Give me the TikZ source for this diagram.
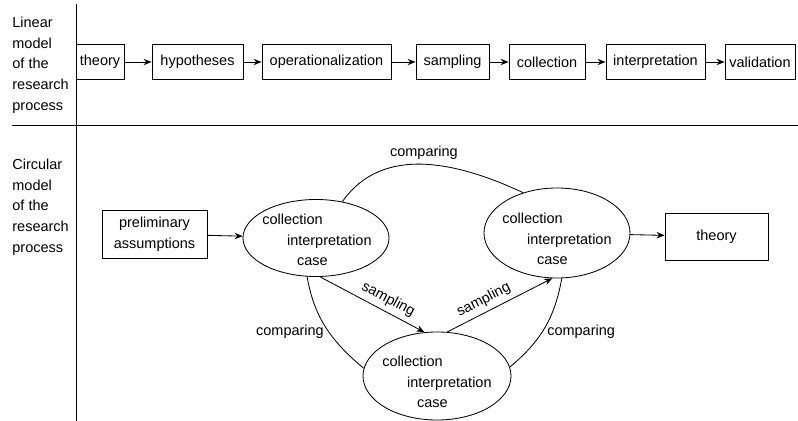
\documentclass[tikz,border=0pt]{standalone}
\usepackage{fontspec}
\setmainfont{Liberation Sans}
\usetikzlibrary{arrows.meta, shapes.geometric, positioning}
\newcommand{\cyclines}{collection\\\hspace*{1.7em}interpretation\\\hspace*{2.4em}case}

\begin{document}
\begin{tikzpicture}[
        x=0.025cm, y=0.025cm,
        font=\fontsize{10.3}{14.6}\selectfont,
        >={Stealth[length=2mm,width=1.6mm]},
        line width=0.6pt,
        stage/.style={
            rectangle,
            draw,
            minimum height=0.875cm,
            inner xsep=2pt,
        },
        roundstage/.style={
            ellipse,
            draw,
            minimum width=3.65cm,
        },
        steptext/.style={
            align=left,
            inner sep=0pt,
            anchor=north west,
        },
        sidelabel/.style={
            align=left,
            inner sep=0pt,
            anchor=north west,
        },
    ]
    \useasboundingbox (0,0) rectangle (798,-421);

    % Frame
    \draw (76,-4) -- (76,-421);
    \draw (12,-125) -- (798,-125);

    % Side labels
    \node[sidelabel] (linlabel) at (12,-17) {Linear\\model\\of the\\research\\process};
    \node[sidelabel] (circlabel) at (12,-159) {Circular\\model\\of the\\research\\process};

    % Linear model, boxes named lin#
    \node[stage, minimum width=1.2cm] (lin1) at (100,-62) {theory};
    \node[stage, minimum width=2.275cm] (lin2) at (197.5,-62) {hypotheses};
    \node[stage, minimum width=3.225cm] (lin3) at (326.5,-62) {operationalization};
    \node[stage, minimum width=1.825cm] (lin4) at (452.5,-62) {sampling};
    \node[stage, minimum width=1.9cm] (lin5) at (547,-62) {collection};
    \node[stage, minimum width=2.475cm] (lin6) at (655.5,-62) {interpretation};
    \node[stage, minimum width=1.75cm] (lin7) at (760,-62) {validation};

    \foreach \a/\b in {1/2,2/3,3/4,4/5,5/6,6/7}
        \draw[->] (lin\a) -- (lin\b);

    % Circular model, cycles named cyc#
    \node[stage, minimum width=2.625cm, minimum height=1.2cm, align=center] (pre) at (154.5,-234) {preliminary\\assumptions};
    \node[stage, minimum width=2.575cm, minimum height=1.175cm] (theo) at (716.5,-236.5) {theory};

    \node[roundstage, minimum height=1.925cm] (cyc1) at (316,-238) {};
    \node[roundstage, minimum height=2.25cm] (cyc2) at (557,-233) {};
    \node[roundstage, minimum width=3.7cm, minimum height=2.2cm] (cyc3) at (437,-376) {};

    \node[steptext] (txt1) at (262,-214) {\cyclines};
    \node[steptext] (txt2) at (502,-213) {\cyclines};
    \node[steptext] (txt3) at (382,-356) {\cyclines};

    % Arrows
    \draw[->] (pre) -- (cyc1);
    \draw[->] (cyc2) -- (theo);
    \draw[->] (cyc1.-84) -- node[pos=0.6, above, sloped] {sampling} (cyc3.106);
    \draw[->] (cyc3.77) -- node[pos=0.4, above, sloped] {sampling} (cyc2.264);

    % Comparing
    \draw (cyc1.54) to[out=55, in=155] node[above] {comparing} (cyc2.130);
    \draw (cyc1.257) to[out=-80, in=140] node[pos=0.55, left] {comparing} (cyc3.174);
    \draw (cyc2.-84) to[out=-100, in=40] node[pos=0.55, right] {comparing} (cyc3.7);

\end{tikzpicture}
\end{document}
